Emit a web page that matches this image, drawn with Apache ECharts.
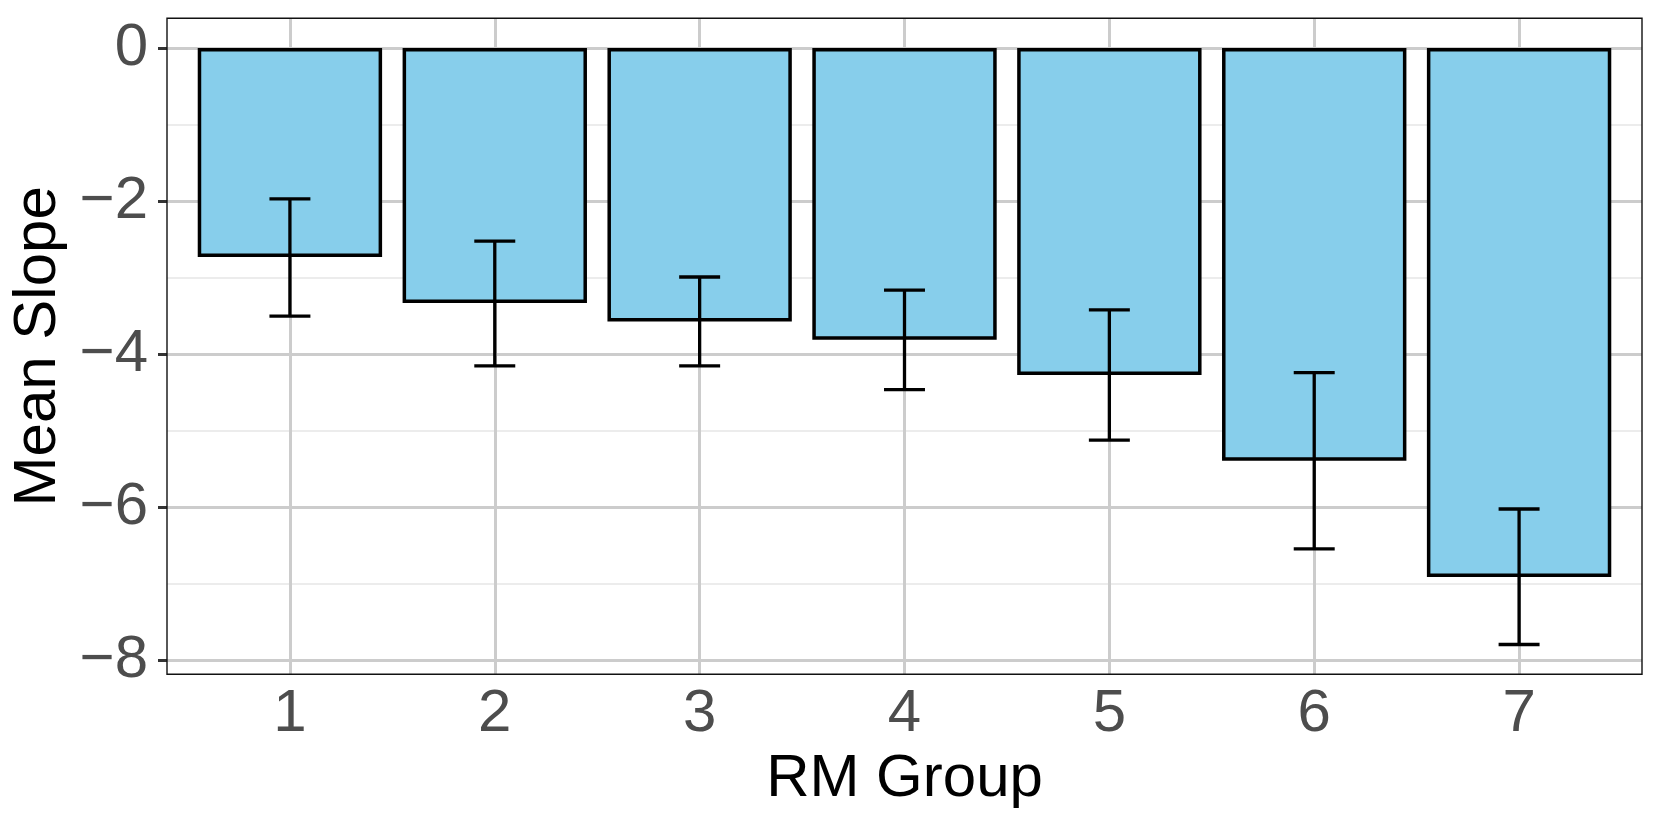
<!DOCTYPE html>
<html><head><meta charset="utf-8">
<script src="https://cdn.jsdelivr.net/npm/echarts@6/dist/echarts.min.js"></script>
<style>html,body{margin:0;padding:0;background:#fff}#c{width:1661px;height:830px}</style>
</head><body><div id="c"></div>
<script>
// ---- data ----
const categories = ['1','2','3','4','5','6','7'];
const meanSlope = [-2.73, -3.33, -3.57, -3.81, -4.27, -5.39, -6.91];
const errUpper = [-1.97, -2.52, -2.99, -3.16, -3.42, -4.24, -6.02];
const errLower = [-3.50, -4.15, -4.15, -4.46, -5.12, -6.54, -7.79];
const yTicks = [0, -2, -4, -6, -8];
const xTitle = 'RM Group';
const yTitle = 'Mean Slope';

// ---- layout ----
const FONT = '"Liberation Sans", Arial, Helvetica, sans-serif';
const panel = {left:167, right:1642, top:18.3, bottom:674.3};
const dMin = Math.min(0, ...errLower), dMax = Math.max(0, ...errUpper);
const pad = (dMax - dMin) * 0.05;
const yLo = dMin - pad, yHi = dMax + pad;
const pxPerUnit = (panel.bottom - panel.top) / (yHi - yLo);
const tickMax = Math.max(...yTicks), tickMin = Math.min(...yTicks);
const tickStep = Math.abs(yTicks[0] - yTicks[1]);
const g1Top = panel.top + (yHi - tickMax) * pxPerUnit;
const g1Bottom = panel.bottom - (tickMin - yLo) * pxPerUnit;
const n = categories.length;
const unit = (panel.right - panel.left) / (n - 1 + 1.2);
const g2Left = panel.left + 0.1 * unit;
const g2Right = panel.right - 0.1 * unit;
const pw = panel.right - panel.left, ph = panel.bottom - panel.top;

const chart = echarts.init(document.getElementById('c'), null, {renderer:'canvas'});
const fmt = v => v < 0 ? '\u2212' + Math.abs(v) : String(v);
chart.setOption({
  animation: false,
  backgroundColor: '#fff',
  grid: [
    {left: panel.left, top: panel.top, width: pw, height: ph, show: true, borderColor: '#111', borderWidth: 1.4, backgroundColor: 'transparent', z: 5},
    {left: panel.left, top: g1Top, width: pw, height: g1Bottom - g1Top},
    {left: g2Left, top: panel.top, width: g2Right - g2Left, height: ph}
  ],
  xAxis: [
    {gridIndex: 0, type: 'value', show: false},
    {gridIndex: 1, type: 'value', show: false},
    {gridIndex: 2, type: 'category', data: categories, boundaryGap: true,
     axisLine: {show: false},
     axisTick: {show: true, alignWithLabel: true, length: 9, lineStyle: {color: '#333', width: 3}},
     axisLabel: {fontSize: 60, color: '#4d4d4d', margin: 10, fontFamily: FONT},
     splitLine: {show: true, alignWithLabel: true, lineStyle: {color: '#cccccc', width: 3}},
     name: xTitle, nameLocation: 'middle', nameGap: 74,
     nameTextStyle: {fontSize: 60, color: '#000', fontFamily: FONT}}
  ],
  yAxis: [
    {gridIndex: 0, type: 'value', min: yLo, max: yHi,
     axisLine: {show: false}, axisTick: {show: false}, axisLabel: {show: false}, splitLine: {show: false},
     name: yTitle, nameLocation: 'middle', nameGap: 99, nameRotate: 90,
     nameTextStyle: {fontSize: 60, color: '#000', fontFamily: FONT}},
    {gridIndex: 1, type: 'value', min: tickMin, max: tickMax, interval: tickStep,
     axisLine: {show: false},
     axisTick: {show: true, length: 9, lineStyle: {color: '#333', width: 3}},
     axisLabel: {fontSize: 60, color: '#4d4d4d', margin: 19, fontFamily: FONT, formatter: fmt},
     splitLine: {show: true, lineStyle: {color: '#cccccc', width: 3}},
     minorTick: {show: false, splitNumber: 2},
     minorSplitLine: {show: true, lineStyle: {color: '#e6e6e6', width: 1.7}}},
    {gridIndex: 2, type: 'value', min: yLo, max: yHi, show: false}
  ],
  series: [
    {type: 'bar', xAxisIndex: 2, yAxisIndex: 2, data: meanSlope, barWidth: '90%',
     itemStyle: {color: '#87CEEB', borderColor: '#000', borderWidth: 3.5}, z: 2},
    {type: 'custom', xAxisIndex: 2, yAxisIndex: 2, z: 3,
     data: categories.map((c, i) => [i, errLower[i], errUpper[i]]),
     renderItem: function (params, api) {
       const x = api.value(0);
       const lo = api.coord([x, api.value(1)]);
       const hi = api.coord([x, api.value(2)]);
       const half = api.size([1, 0])[0] * 0.1;
       const st = {stroke: '#000', lineWidth: 3.3, fill: null};
       return {type: 'group', children: [
         {type: 'line', shape: {x1: lo[0], y1: lo[1], x2: hi[0], y2: hi[1]}, style: st},
         {type: 'line', shape: {x1: hi[0] - half, y1: hi[1], x2: hi[0] + half, y2: hi[1]}, style: st},
         {type: 'line', shape: {x1: lo[0] - half, y1: lo[1], x2: lo[0] + half, y2: lo[1]}, style: st}
       ]};
     }}
  ]
});
</script></body></html>
